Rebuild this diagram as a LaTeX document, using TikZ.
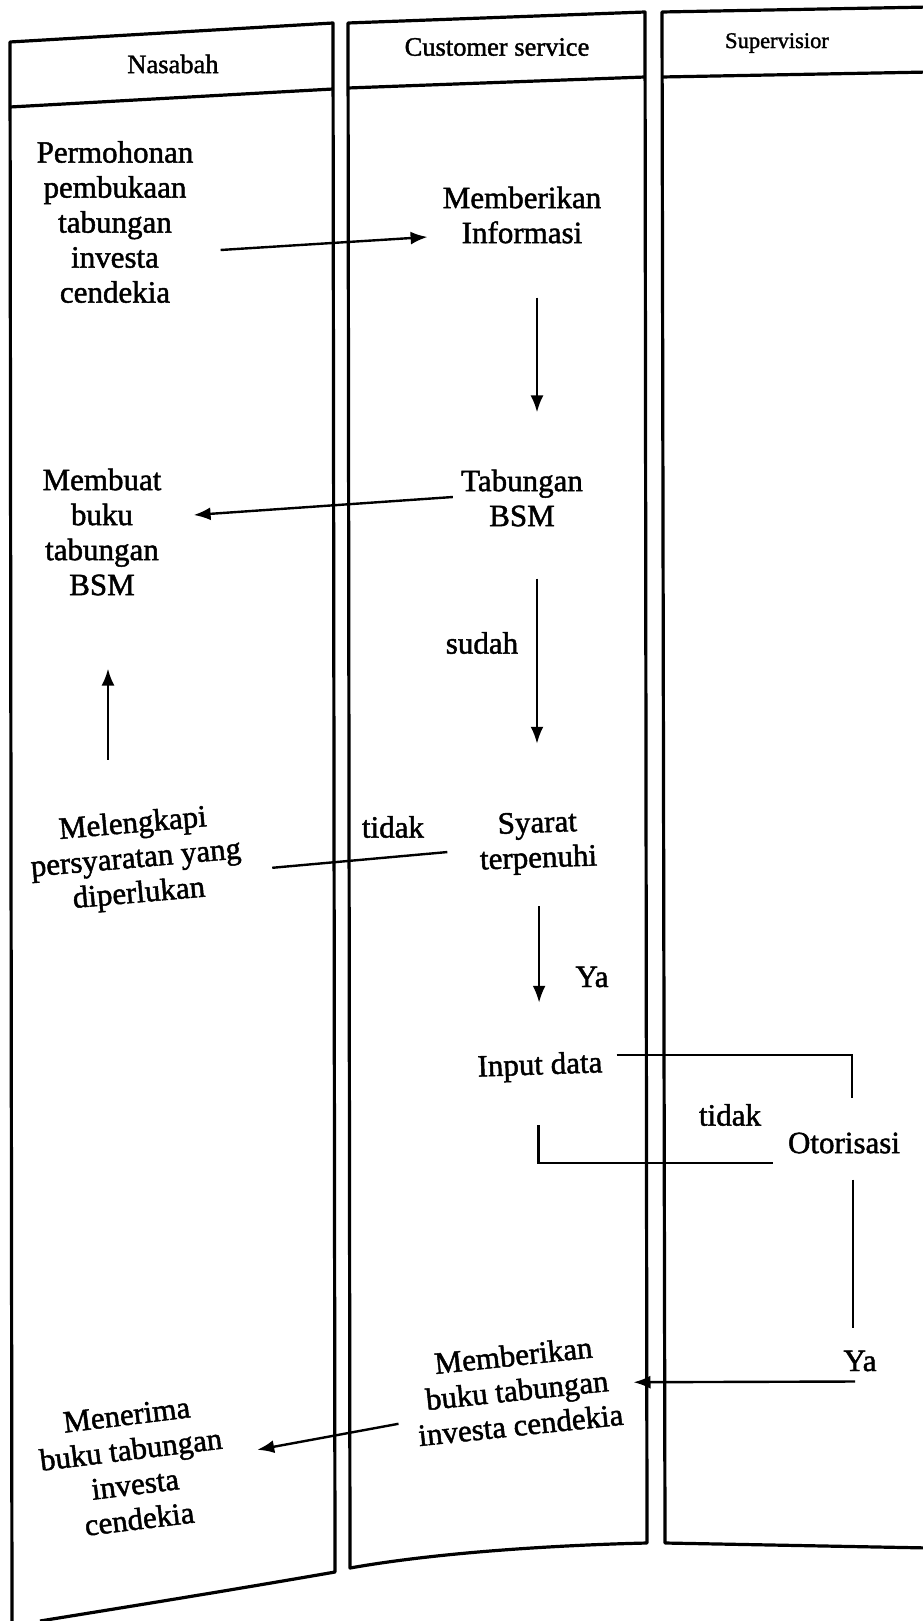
\documentclass[tikz,border=0pt]{standalone}
\usepackage{fontspec}
\setmainfont{Liberation Serif}[FakeBold=1.5]
\usetikzlibrary{arrows.meta, calc}

\newcommand{\flowfont}{\fontsize{31}{35}\selectfont}
\newcommand{\lanefont}{\fontsize{26.5}{30}\selectfont}

\begin{document}
\begin{tikzpicture}[x=1pt, y=-1pt,
  lane/.style={line width=3.2pt, line join=round},
  link/.style={line width=2.4pt},
  flow/.style={link, -{Latex[length=17pt, width=13pt]}},
  task/.style={font=\flowfont, align=center, inner sep=0pt},
  tag/.style={font=\flowfont, inner sep=0pt},
  head/.style={font=\lanefont, inner sep=0pt}]

\useasboundingbox (0,0) rectangle (922,1621);

% Lanes
\draw[lane] (12,1621) -- (10,42) -- (333,23) -- (335,1572)
  .. controls (220,1592) and (120,1608) .. (40,1621);
\draw[lane] (10,107) -- (333,89);
\draw[lane] (348,23) -- (645,12) -- (647,1543)
  .. controls (560,1545) and (440,1552) .. (350,1568) -- cycle;
\draw[lane] (348,88) -- (645,77);
\draw[lane] (930,7) -- (662,12) -- (665,1543) -- (930,1548);
\draw[lane] (662,77) -- (930,72);

% Lane titles
\node[head] (nasabah) at (173,64) {Nasabah};
\node[head] (cs) at (497,47) {Customer service};
\node[head, font=\fontsize{22.5}{26}\selectfont] (spv) at (777,43) {Supervisior};

% Steps
\node[task] (mohon) at (115,222) {Permohonan\\pembukaan\\tabungan\\investa\\cendekia};
\node[task] (info) at (522,215) {Memberikan\\Informasi};
\node[task] (buat) at (102,532) {Membuat\\buku\\tabungan\\BSM};
\node[task] (tabung) at (522,498) {Tabungan\\BSM};
\node[tag] (sudah) at (482,643) {sudah};
\node[task, rotate=5] (lengkap) at (136,860) {Melengkapi\\persyaratan yang\\diperlukan};
\node[task, rotate=2] (syarat) at (538,843) {Syarat\\terpenuhi};
\node[tag] (tidakA) at (393,827) {tidak};
\node[tag] (yaA) at (592,977) {Ya};
\node[task, rotate=2] (input) at (540,1067) {Input data};
\node[tag] (tidakB) at (730,1115) {tidak};
\node[task] (otor) at (844,1143) {Otorisasi};
\node[tag] (yaB) at (860,1361) {Ya};
\node[task, rotate=6] (beri) at (517,1390) {Memberikan\\buku tabungan\\investa cendekia};
\node[task, rotate=7] (terima) at (133,1467) {Menerima\\buku tabungan\\investa\\cendekia};

% Connectors
\draw[flow] ([shift={(27pt,-28pt)}]mohon.east) -- ([shift={(-15pt,-22pt)}]info.west);
\draw[flow, shorten <=54pt, shorten >=57pt] ([xshift=15pt]info.south) -- ([xshift=15pt]tabung.north);
\draw[flow] ([shift={(-8pt,1pt)}]tabung.west) -- ([shift={(32pt,17pt)}]buat.east);
\draw[flow, shorten <=51pt, shorten >=73pt] ([xshift=6pt]buat.south |- lengkap.north) -- ([xshift=6pt]buat.south);
\draw[flow, shorten <=52pt, shorten >=68pt] ([xshift=15pt]tabung.south) -- ([xshift=15pt]tabung.south |- syarat.north);
\draw[link] ([shift={(-32pt,-7pt)}]syarat.west) -- ([shift={(31pt,-17pt)}]lengkap.east);
\draw[flow, shorten <=32pt, shorten >=50pt] (syarat.south) -- (syarat.south |- input.north);
\draw[link] ([shift={(14pt,10pt)}]input.east) -| ([shift={(8pt,34pt)}]otor.north);
\draw[link] ([shift={(-15pt,-20pt)}]otor.west) -| ([shift={(-2pt,-44pt)}]input.south);
\draw[link, shorten <=26pt, shorten >=23pt] ([xshift=9pt]otor.south) -- ([xshift=9pt]otor.south |- yaB.north);
\draw[flow] ([shift={(-5pt,-10pt)}]yaB.south) -- ([shift={(14pt,-3pt)}]beri.east);
\draw[flow] ([shift={(-16pt,-23pt)}]beri.west) -- ([shift={(33pt,6pt)}]terima.east);

\end{tikzpicture}
\end{document}
